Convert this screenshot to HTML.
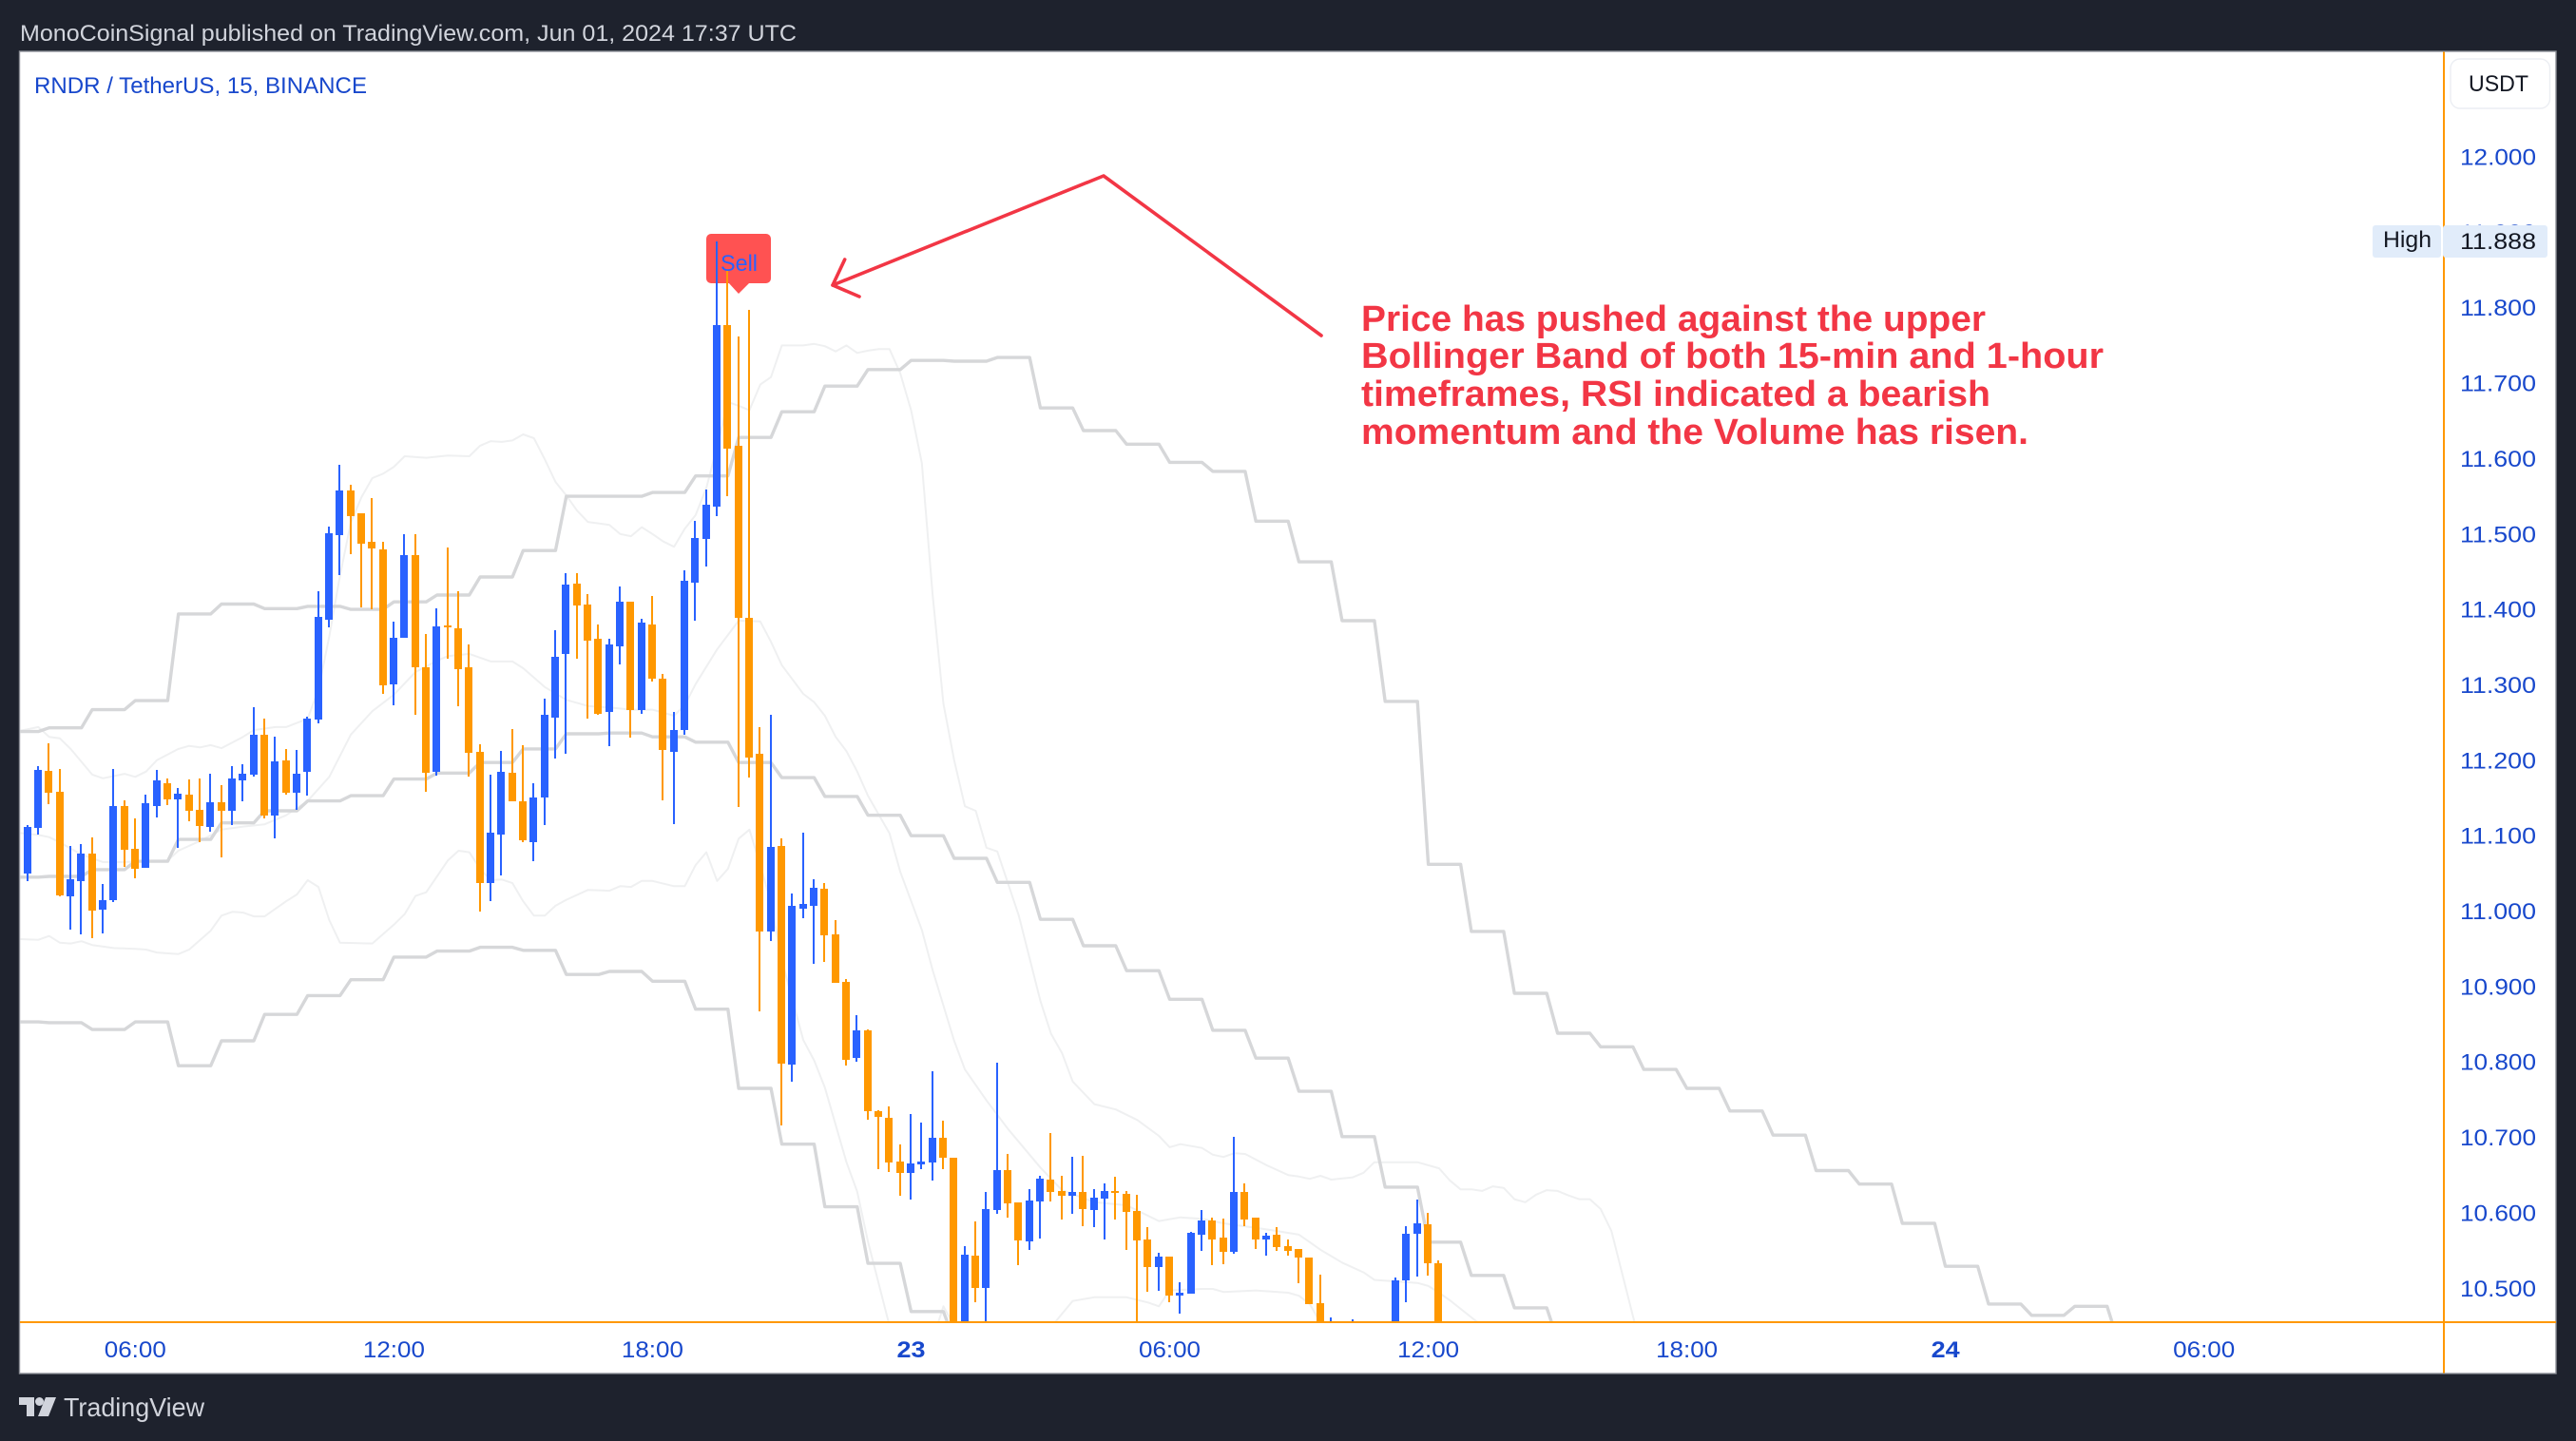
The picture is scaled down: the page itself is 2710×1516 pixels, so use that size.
<!DOCTYPE html>
<html lang="en">
<head>
<meta charset="utf-8">
<title>RNDR / TetherUS 15m chart</title>
<style>
html,body{margin:0;padding:0;background:#1e222d;width:2710px;height:1516px;overflow:hidden}
svg{display:block;font-family:"Liberation Sans",sans-serif}
</style>
</head>
<body>
<svg id="chart" xmlns="http://www.w3.org/2000/svg" width="2710" height="1516" viewBox="0 0 2710 1516">
  <defs><clipPath id="pane-clip"><rect x="21.5" y="55" width="2549" height="1335"/></clipPath></defs>
  <rect x="0" y="0" width="2710" height="1516" fill="#1e222d"/>
  <text x="21" y="43" font-size="24" fill="#d1d4dc" textLength="817" lengthAdjust="spacingAndGlyphs">MonoCoinSignal published on TradingView.com, Jun 01, 2024 17:37 UTC</text>
  <rect x="20.5" y="54" width="2668.5" height="1391" fill="#ffffff" stroke="#8b8e96" stroke-width="1.4"/>
  <g id="bands" clip-path="url(#pane-clip)"></g>
  <g>
    <rect x="743" y="246" width="68" height="52" rx="5" fill="#ff5252"/>
    <polygon points="766,297 789,297 777,309" fill="#ff5252"/>
    <text x="758" y="285" font-size="24" fill="#2962ff" textLength="39" lengthAdjust="spacingAndGlyphs">Sell</text>
  </g>
  <g id="candles" clip-path="url(#pane-clip)" shape-rendering="crispEdges"></g>
  <rect x="2570" y="54.5" width="2" height="1390" fill="#ff9800"/>
  <rect x="21" y="1390" width="2668" height="2" fill="#ff9800"/>
  <g id="ylabels"></g>
  <g id="xlabels"></g>
  <rect x="2578" y="62" width="104.5" height="52" rx="10" fill="#ffffff" stroke="#eceef3" stroke-width="1.4"/>
  <text x="2597" y="96" font-size="24" fill="#131722" textLength="63" lengthAdjust="spacingAndGlyphs">USDT</text>
  <rect x="2496" y="237" width="72" height="34" rx="3" fill="#e1ecfa"/>
  <rect x="2570" y="237" width="110" height="34" rx="3" fill="#e1ecfa"/>
  <rect x="2568" y="237" width="2" height="34" fill="#ffffff"/>
  <text x="2507" y="260" font-size="24" fill="#131722" textLength="51" lengthAdjust="spacingAndGlyphs">High</text>
  <text x="2588" y="262" font-size="24" fill="#131722" textLength="80" lengthAdjust="spacingAndGlyphs">11.888</text>
  <text x="36" y="98" font-size="24" fill="#1848cc" textLength="350" lengthAdjust="spacingAndGlyphs">RNDR / TetherUS, 15, BINANCE</text>
  <polyline points="1390,353 1161,185 876,300" fill="none" stroke="#f23645" stroke-width="3.6" stroke-linecap="round" stroke-linejoin="round"/>
  <polyline points="888.7,273 876,300 904,312" fill="none" stroke="#f23645" stroke-width="3.6" stroke-linecap="round" stroke-linejoin="round"/>
  <g font-size="38" font-weight="700" fill="#f23645">
    <text x="1432" y="348" textLength="657" lengthAdjust="spacingAndGlyphs">Price has pushed against the upper</text>
    <text x="1432" y="387" textLength="781" lengthAdjust="spacingAndGlyphs">Bollinger Band of both 15-min and 1-hour</text>
    <text x="1432" y="427" textLength="662" lengthAdjust="spacingAndGlyphs">timeframes, RSI indicated a bearish</text>
    <text x="1432" y="467" textLength="702" lengthAdjust="spacingAndGlyphs">momentum and the Volume has risen.</text>
  </g>
  <g fill="#d1d4dc">
    <polygon points="20,1470 36,1470 36,1490 28,1490 28,1478 20,1478"/>
    <circle cx="41.5" cy="1474.5" r="4.5"/>
    <polygon points="48,1470 59,1470 51,1490 40,1490"/>
    <text x="67" y="1490" font-size="28" textLength="148" lengthAdjust="spacingAndGlyphs">TradingView</text>
  </g>
</svg>
<script>
const open = [
10.973,11.050,11.110,11.186,11.158,11.020,11.040,11.076,11.002,11.015,
11.139,11.083,11.057,11.139,11.169,11.148,11.154,11.134,11.112,11.144,
11.133,11.173,11.181,11.234,11.127,11.200,11.157,11.185,11.254,11.386,
11.498,11.558,11.527,11.490,11.480,11.301,11.362,11.472,11.323,11.185,
11.379,11.375,11.323,11.211,11.037,11.101,11.183,11.145,11.091,11.151,
11.256,11.341,11.434,11.406,11.361,11.264,11.351,11.410,11.267,11.380,
11.308,11.211,11.240,11.435,11.493,11.536,11.777,11.617,11.389,11.209,
10.973,11.086,10.797,11.003,11.007,11.030,10.969,10.906,10.805,10.842,
10.735,10.726,10.668,10.653,10.664,10.667,10.699,10.673,10.444,10.543,
10.500,10.604,10.657,10.614,10.562,10.615,10.644,10.629,10.623,10.628,
10.604,10.619,10.629,10.625,10.602,10.565,10.528,10.542,10.490,10.493,
10.571,10.590,10.567,10.548,10.628,10.594,10.565,10.571,10.556,10.552,
10.541,10.480,10.420,10.440,10.425,10.430,10.415,10.425,10.420,10.510,
10.572,10.585,10.533];
const high = [
11.052,11.114,11.192,11.222,11.188,11.086,11.089,11.098,11.036,11.188,
11.147,11.123,11.154,11.187,11.176,11.163,11.174,11.176,11.182,11.167,
11.192,11.195,11.270,11.255,11.231,11.215,11.214,11.258,11.424,11.510,
11.592,11.565,11.527,11.548,11.490,11.384,11.500,11.500,11.367,11.401,
11.482,11.424,11.353,11.221,11.181,11.212,11.241,11.220,11.169,11.282,
11.372,11.448,11.448,11.420,11.380,11.361,11.430,11.410,11.387,11.418,
11.314,11.264,11.452,11.517,11.559,11.888,11.849,11.762,11.797,11.244,
11.260,11.096,11.023,11.104,11.042,11.037,10.988,10.910,10.862,10.843,
10.736,10.741,10.691,10.731,10.720,10.788,10.722,10.673,10.556,10.589,
10.628,10.799,10.678,10.614,10.631,10.649,10.706,10.649,10.674,10.676,
10.631,10.639,10.648,10.629,10.624,10.581,10.547,10.542,10.508,10.575,
10.604,10.594,10.592,10.701,10.639,10.594,10.573,10.581,10.565,10.552,
10.541,10.518,10.461,10.445,10.459,10.445,10.440,10.450,10.514,10.582,
10.618,10.600,10.537];
const low = [
10.973,11.040,11.101,11.142,11.020,10.976,10.969,10.964,10.970,11.012,
11.058,11.043,11.057,11.124,11.140,11.084,11.119,11.091,11.105,11.071,
11.114,11.145,11.178,11.123,11.096,11.154,11.134,11.153,11.249,11.376,
11.445,11.473,11.403,11.400,11.288,11.273,11.362,11.260,11.158,11.180,
11.335,11.272,11.178,11.000,11.013,11.047,11.146,11.091,11.066,11.114,
11.202,11.208,11.335,11.255,11.260,11.219,11.327,11.230,11.262,11.304,
11.147,11.115,11.234,11.385,11.457,11.524,11.550,11.138,11.177,10.867,
10.960,10.716,10.774,10.991,10.930,10.933,10.905,10.795,10.800,10.723,
10.658,10.654,10.622,10.618,10.658,10.643,10.658,10.418,10.431,10.481,
10.444,10.599,10.594,10.531,10.551,10.566,10.615,10.591,10.599,10.582,
10.581,10.564,10.591,10.551,10.444,10.495,10.497,10.481,10.466,10.493,
10.550,10.531,10.532,10.546,10.582,10.552,10.543,10.549,10.543,10.507,
10.479,10.430,10.410,10.420,10.415,10.410,10.405,10.415,10.410,10.482,
10.515,10.517,10.400];
const close = [
11.052,11.112,11.187,11.157,11.021,11.042,11.076,11.001,11.015,11.139,
11.081,11.056,11.143,11.173,11.148,11.156,11.133,11.113,11.144,11.133,
11.176,11.182,11.234,11.127,11.198,11.157,11.182,11.255,11.390,11.501,
11.558,11.524,11.487,11.481,11.299,11.362,11.472,11.323,11.183,11.377,
11.376,11.321,11.210,11.037,11.104,11.185,11.146,11.094,11.151,11.260,
11.337,11.433,11.405,11.359,11.262,11.354,11.410,11.267,11.382,11.308,
11.213,11.240,11.438,11.495,11.539,11.777,11.613,11.389,11.204,10.973,
11.085,10.798,11.007,11.010,11.031,10.968,10.905,10.803,10.842,10.735,
10.727,10.667,10.653,10.665,10.668,10.699,10.673,10.444,10.544,10.500,
10.605,10.657,10.613,10.563,10.616,10.645,10.628,10.623,10.628,10.605,
10.620,10.629,10.626,10.601,10.563,10.528,10.542,10.490,10.494,10.573,
10.590,10.565,10.548,10.628,10.591,10.565,10.570,10.554,10.549,10.541,
10.479,10.444,10.440,10.430,10.440,10.420,10.430,10.445,10.510,10.572,
10.586,10.533,10.420];

/* 1-hour Bollinger Bands: one value per hour (4 candles) */
const hourlyUpper = [11.238,11.243,11.267,11.279,11.394,11.407,11.401,11.404,11.400,11.410,11.419,11.443,11.478,11.550,11.550,11.555,11.577,11.628,11.662,11.696,11.718,11.730,11.729,11.734,11.667,11.637,11.619,11.595,11.583,11.517,11.463,11.385,11.278,11.062,10.973,10.891,10.838,10.820,10.790,10.765,10.735,10.703,10.656,10.638,10.586,10.529,10.479,10.464,10.476,10.431];
const hourlyBasis = [11.045,11.046,11.055,11.066,11.095,11.117,11.133,11.146,11.153,11.175,11.183,11.197,11.215,11.235,11.236,11.231,11.224,11.197,11.177,11.152,11.127,11.100,11.070,11.038,10.989,10.954,10.921,10.883,10.842,10.805,10.761,10.701,10.634,10.561,10.517,10.474,10.431];
const hourlyLower = [10.853,10.852,10.843,10.853,10.795,10.828,10.863,10.888,10.909,10.939,10.947,10.952,10.948,10.916,10.920,10.907,10.870,10.765,10.691,10.608,10.533,10.469,10.431];

/* 15-minute Bollinger Bands: [candle index, price] vertices */
const bbUpper15 = [[0,11.238],[2,11.244],[3,11.231],[4,11.229],[5,11.215],[7,11.181],[8,11.176],[10,11.182],[11,11.178],[12,11.185],[13,11.200],[15,11.215],[16,11.219],[17,11.217],[18,11.220],[19,11.216],[21,11.231],[22,11.240],[24,11.244],[25,11.244],[27,11.255],[28,11.294],[29,11.364],[30,11.445],[31,11.515],[32,11.549],[33,11.574],[34,11.580],[35,11.589],[36,11.603],[38,11.601],[40,11.604],[42,11.603],[43,11.617],[44,11.623],[45,11.622],[46,11.624],[47,11.632],[48,11.627],[49,11.599],[50,11.569],[51,11.551],[52,11.531],[53,11.516],[55,11.512],[56,11.500],[57,11.497],[58,11.509],[59,11.500],[60,11.490],[61,11.483],[62,11.507],[63,11.525],[64,11.561],[65,11.616],[66,11.675],[67,11.670],[68,11.664],[69,11.698],[70,11.708],[71,11.750],[73,11.750],[74,11.752],[75,11.749],[76,11.742],[77,11.750],[78,11.740],[79,11.743],[80,11.745],[81,11.745],[82,11.713],[83,11.664],[84,11.594],[85,11.420],[86,11.275],[87,11.200],[88,11.139],[89,11.133],[90,11.084],[91,11.079],[93,10.994],[95,10.881],[96,10.837],[97,10.812],[98,10.774],[100,10.744],[102,10.737],[104,10.723],[106,10.702],[107,10.687],[108,10.691],[110,10.686],[111,10.677],[112,10.674],[113,10.679],[114,10.678],[116,10.663],[118,10.650],[119,10.648],[120,10.645],[121,10.649],[122,10.644],[124,10.647],[125,10.653],[126,10.667],[130,10.667],[132,10.659],[133,10.643],[134,10.631],[135,10.631],[136,10.629],[137,10.635],[138,10.633],[139,10.618],[140,10.614],[141,10.624],[142,10.630],[143,10.629],[144,10.623],[145,10.618],[146,10.618],[147,10.605],[148,10.576],[150,10.463],[151,10.406]];
const bbBasis15 = [[0,11.104],[2,11.101],[3,11.098],[4,11.091],[6,11.075],[8,11.065],[10,11.065],[12,11.066],[14,11.067],[15,11.080],[17,11.093],[19,11.108],[21,11.112],[23,11.115],[25,11.127],[27,11.146],[29,11.178],[31,11.234],[33,11.265],[35,11.287],[37,11.317],[39,11.332],[40,11.338],[42,11.341],[43,11.336],[44,11.331],[46,11.331],[47,11.322],[49,11.297],[51,11.280],[53,11.272],[55,11.270],[57,11.267],[59,11.267],[61,11.259],[62,11.273],[63,11.301],[65,11.347],[67,11.385],[69,11.384],[70,11.357],[71,11.326],[73,11.288],[74,11.277],[75,11.259],[76,11.231],[77,11.212],[78,11.185],[79,11.153],[81,11.103],[82,11.052],[84,10.975],[85,10.922],[87,10.828],[88,10.790],[90,10.749],[92,10.711],[95,10.660],[97,10.630],[100,10.614],[103,10.610],[106,10.589],[108,10.594],[110,10.592],[112,10.586],[116,10.578],[119,10.571],[120,10.561],[121,10.551],[123,10.534],[125,10.521],[126,10.511],[130,10.507],[131,10.503],[132,10.494],[133,10.484],[136,10.450]];
const bbLower15 = [[0,10.963],[2,10.962],[3,10.967],[4,10.958],[5,10.957],[6,10.960],[7,10.955],[9,10.951],[11,10.950],[12,10.949],[13,10.945],[15,10.943],[16,10.949],[18,10.974],[19,10.994],[20,10.999],[21,10.998],[22,10.993],[23,10.993],[25,11.013],[26,11.022],[27,11.041],[28,11.032],[29,10.988],[30,10.958],[33,10.957],[35,10.982],[36,10.996],[37,11.020],[38,11.025],[40,11.067],[41,11.080],[42,11.078],[43,11.056],[44,11.041],[45,11.042],[46,11.037],[47,11.013],[48,10.994],[49,10.994],[50,11.007],[51,11.015],[53,11.028],[55,11.027],[56,11.033],[57,11.032],[58,11.040],[59,11.040],[61,11.033],[62,11.033],[63,11.061],[64,11.078],[65,11.040],[66,11.056],[67,11.096],[68,11.108],[69,11.061],[70,11.011],[71,10.935],[73,10.829],[74,10.802],[75,10.766],[77,10.667],[78,10.628],[79,10.562],[81,10.450],[85,10.431],[86,10.476],[87,10.450],[95,10.431],[97,10.466],[98,10.483],[100,10.488],[103,10.488],[105,10.481],[106,10.476],[107,10.497],[110,10.499],[111,10.499],[112,10.495],[115,10.497],[118,10.494],[119,10.490],[120,10.479],[121,10.454],[122,10.418]];

const priceTicks = ['12.000','11.900','11.800','11.700','11.600','11.500','11.400','11.300','11.200','11.100','11.000','10.900','10.800','10.700','10.600','10.500'];
const timeTicks = ['06:00','12:00','18:00','23','06:00','12:00','18:00','24','06:00'];
const timeTickCandle = [11,35,59,83,107,131,155,179,203];

const SVGNS = 'http://www.w3.org/2000/svg';
function xAt(i){ return 17.665 + 11.335 * i; }
function yAt(p){ return 165 + (12 - p) * 793.5; }
function mk(tag, parent){ const e = document.createElementNS(SVGNS, tag); parent.appendChild(e); return e; }

const bands = document.getElementById('bands');
const candles = document.getElementById('candles');
const ylabels = document.getElementById('ylabels');
const xlabels = document.getElementById('xlabels');

function hourlyPoints(vals){
  const pts = [];
  vals.forEach(function(v, k){
    const a = -1 + 4 * k, b = a + 3;
    pts.push(xAt(a).toFixed(1) + ',' + yAt(v).toFixed(1));
    pts.push(xAt(b).toFixed(1) + ',' + yAt(v).toFixed(1));
  });
  return pts.join(' ');
}
function vertexPoints(list){
  return list.map(function(d){ return xAt(d[0]).toFixed(1) + ',' + yAt(d[1]).toFixed(1); }).join(' ');
}

[bbUpper15, bbBasis15, bbLower15].forEach(function(list){
  const el = mk('polyline', bands);
  
  
  el.setAttribute('points', vertexPoints(list));
  el.setAttribute('fill', 'none');
  el.setAttribute('stroke', '#eff0f1');
  el.setAttribute('stroke-width', '2');
  el.setAttribute('stroke-linejoin', 'round');
});
[hourlyUpper, hourlyBasis, hourlyLower].forEach(function(vals){
  const el = mk('polyline', bands);
  
  
  el.setAttribute('points', hourlyPoints(vals));
  el.setAttribute('fill', 'none');
  el.setAttribute('stroke', '#d6d7d9');
  el.setAttribute('stroke-width', '3.4');
  el.setAttribute('stroke-linejoin', 'round');
});

open.forEach(function(o, i){
  const c = close[i], col = c >= o ? '#2962ff' : '#ff9800';
  const cx = Math.floor(xAt(i));
  const top = Math.round(yAt(Math.max(o, c)));
  const bot = Math.round(yAt(Math.min(o, c)));
  const hy = Math.round(yAt(high[i]));
  const ly = Math.round(yAt(low[i]));
  const wick = mk('rect', candles);
  
  
  wick.setAttribute('x', cx - 1);
  wick.setAttribute('y', hy);
  wick.setAttribute('width', 2);
  wick.setAttribute('height', Math.max(1, ly - hy));
  wick.setAttribute('fill', col);
  const body = mk('rect', candles);
  
  
  body.setAttribute('x', cx - 4);
  body.setAttribute('y', top);
  body.setAttribute('width', 8);
  body.setAttribute('height', Math.max(2, bot - top));
  body.setAttribute('fill', col);
});

priceTicks.forEach(function(t){
  const el = mk('text', ylabels);
  
  
  el.setAttribute('x', 2588);
  el.setAttribute('y', (yAt(parseFloat(t)) + 8.5).toFixed(1));
  el.setAttribute('font-size', 24);
  el.setAttribute('fill', '#1848cc');
  el.setAttribute('textLength', 80);
  el.setAttribute('lengthAdjust', 'spacingAndGlyphs');
  el.textContent = t;
});

timeTicks.forEach(function(t, n){
  const bold = t.length === 2;
  const el = mk('text', xlabels);
  
  
  el.setAttribute('x', xAt(timeTickCandle[n]).toFixed(1));
  el.setAttribute('y', 1428);
  el.setAttribute('text-anchor', 'middle');
  el.setAttribute('font-size', 24);
  el.setAttribute('font-weight', bold ? 700 : 400);
  el.setAttribute('fill', '#1848cc');
  el.setAttribute('textLength', bold ? 30 : 65);
  el.setAttribute('lengthAdjust', 'spacingAndGlyphs');
  el.textContent = t;
});
</script>
</body>
</html>
